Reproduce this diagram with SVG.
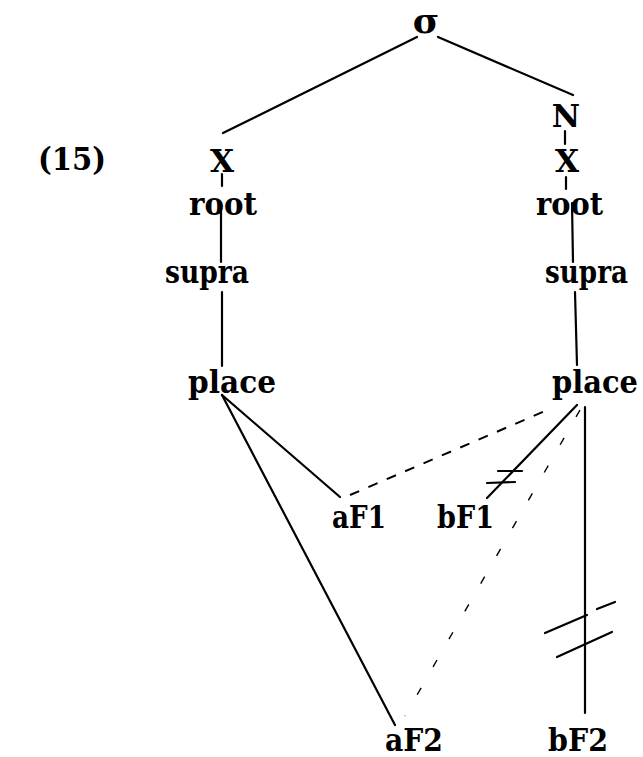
<svg xmlns="http://www.w3.org/2000/svg" width="643" height="757" viewBox="0 0 643 757">
<style>
text{font-family:"DejaVu Serif","Liberation Serif",serif;font-size:31px;fill:#000;font-weight:bold}
.l{stroke:#000;stroke-width:2.2;fill:none;stroke-linecap:round}
.d{stroke:#000;stroke-width:2;fill:none;stroke-dasharray:10 10}
.f{stroke:#000;stroke-width:1.4;fill:none;stroke-dasharray:8 24}
</style>
<rect width="643" height="757" fill="#fff"/>
<g id="connectors">
<line class="l" x1="417" y1="37" x2="223" y2="133"/>
<line class="l" x1="438" y1="37" x2="573" y2="95"/>
<line class="l" x1="222" y1="174" x2="222" y2="186"/>
<line class="l" x1="565" y1="131" x2="565" y2="144"/>
<line class="l" x1="566" y1="177" x2="566" y2="189"/>
<line class="l" x1="221" y1="203" x2="221" y2="262"/>
<line class="l" x1="222" y1="292" x2="222" y2="366"/>
<line class="l" x1="572" y1="203" x2="573" y2="262"/>
<line class="l" x1="575" y1="292" x2="577" y2="365"/>
<line class="l" x1="222" y1="395" x2="340" y2="497"/>
<line class="l" x1="222" y1="395" x2="395" y2="725"/>
<line class="d" x1="350" y1="495" x2="552" y2="408"/>
<line class="l" x1="577" y1="405" x2="487" y2="498"/>
<line class="l" x1="498" y1="471" x2="522" y2="471"/>
<line class="l" x1="487" y1="483" x2="515" y2="482"/>
<line class="f" x1="580" y1="410" x2="405" y2="716"/>
<line class="l" x1="585" y1="407" x2="585" y2="713"/>
<line class="l" x1="545" y1="633" x2="587" y2="615"/>
<line class="l" x1="597" y1="609" x2="615" y2="602"/>
<line class="l" x1="557" y1="657" x2="612" y2="632"/>
</g>
<g id="label15"><text x="38" y="170" textLength="68" lengthAdjust="spacingAndGlyphs">(15)</text></g>
<g id="sigma"><text x="426" y="33" text-anchor="middle" style="font-size:36px">σ</text></g>
<g id="X1"><text x="222" y="172" text-anchor="middle">X</text></g>
<g id="root1"><text x="189" y="215" textLength="68" lengthAdjust="spacingAndGlyphs">root</text></g>
<g id="supra1"><text x="165" y="283" textLength="84" lengthAdjust="spacingAndGlyphs">supra</text></g>
<g id="place1"><text x="188" y="393" textLength="88" lengthAdjust="spacingAndGlyphs">place</text></g>
<g id="N"><text x="566" y="127" text-anchor="middle">N</text></g>
<g id="X2"><text x="567" y="172" text-anchor="middle">X</text></g>
<g id="root2"><text x="536" y="215" textLength="67" lengthAdjust="spacingAndGlyphs">root</text></g>
<g id="supra2"><text x="545" y="283" textLength="83" lengthAdjust="spacingAndGlyphs">supra</text></g>
<g id="place2"><text x="552" y="393" textLength="86" lengthAdjust="spacingAndGlyphs">place</text></g>
<g id="aF1"><text x="332" y="528" textLength="54" lengthAdjust="spacingAndGlyphs">aF1</text></g>
<g id="bF1"><text x="437" y="528" textLength="57" lengthAdjust="spacingAndGlyphs">bF1</text></g>
<g id="aF2"><text x="385" y="751" textLength="58" lengthAdjust="spacingAndGlyphs">aF2</text></g>
<g id="bF2"><text x="548" y="751" textLength="60" lengthAdjust="spacingAndGlyphs">bF2</text></g>
</svg>
